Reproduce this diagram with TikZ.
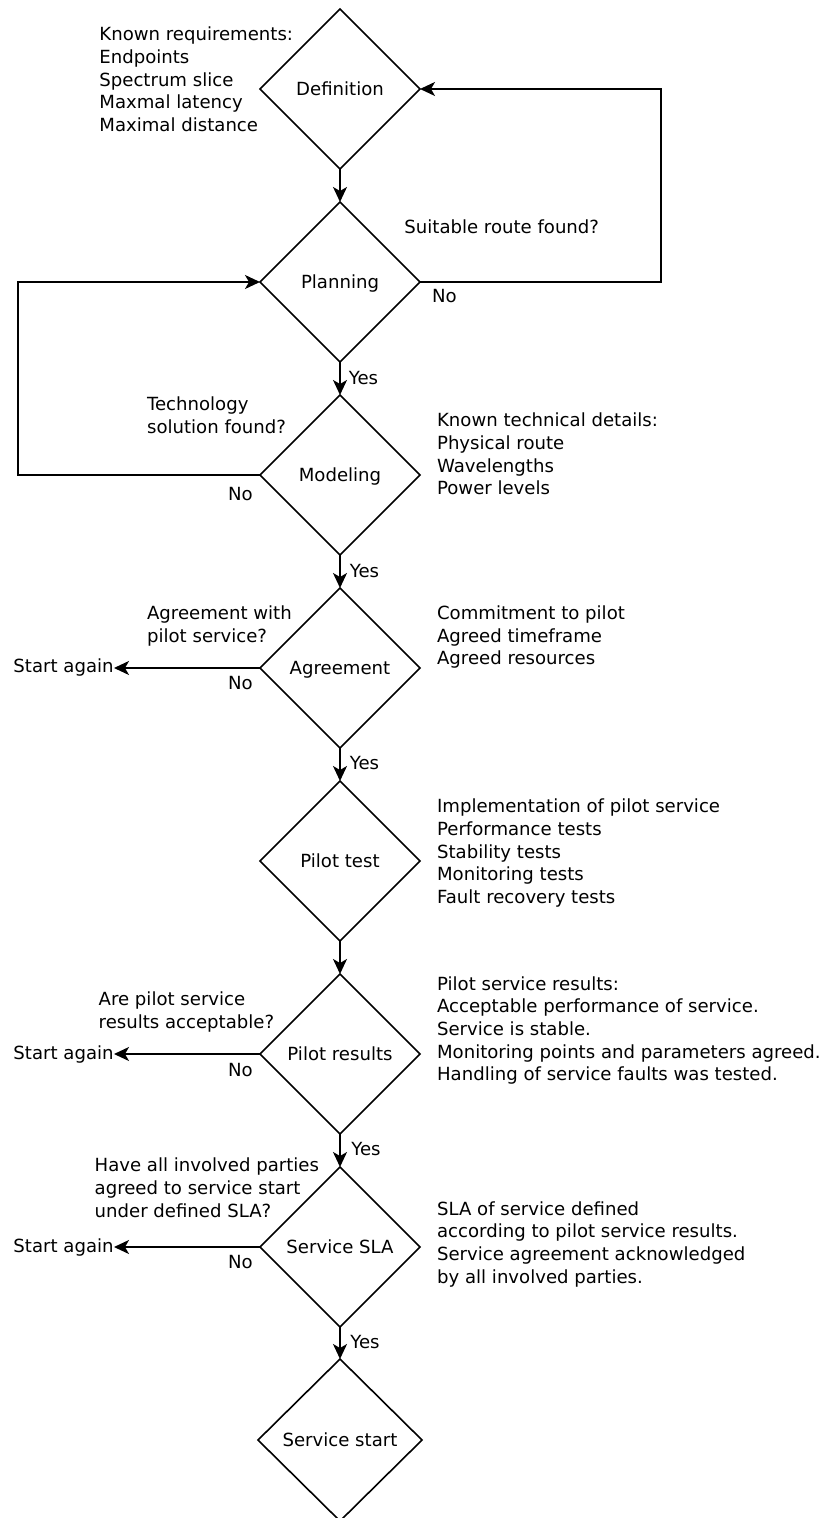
\documentclass[tikz,border=0pt]{standalone}
\usepackage{fontspec}
\setmainfont{DejaVu Sans}
\usetikzlibrary{shapes.geometric,arrows.meta}
\begin{document}
\begin{tikzpicture}[x=0.5pt,y=-0.5pt,
  every node/.style={font=\fontsize{9.05pt}{11.35pt}\selectfont},
  stage/.style={diamond,draw,line width=0.8pt,minimum width=80pt,minimum height=80pt,
    inner sep=0pt,outer sep=0pt,text height=6.5pt,text depth=0pt,aspect=1},
  % multi-line notes are placed by the baseline of their last line
  note/.style={align=left,inner sep=0pt,anchor=base west},
  tag/.style={inner sep=0pt,anchor=base west},
  flow/.style={line width=0.8pt,-{Stealth[length=7.5pt,width=7pt,inset=2pt]}}]
\useasboundingbox (0,0) rectangle (824,1518);

% process stages
\node[stage] (def)  at (340,89)   {Definition};
\node[stage] (plan) at (340,282)  {Planning};
\node[stage] (mod)  at (340,475)  {Modeling};
\node[stage] (agr)  at (340,668)  {Agreement};
\node[stage] (pil)  at (340,861)  {Pilot test};
\node[stage] (res)  at (340,1054) {Pilot results};
\node[stage] (sla)  at (340,1247) {Service SLA};
\node[stage,minimum width=82pt,minimum height=81pt] (go) at (340,1440) {Service start};

% main flow
\draw[flow] (def) -- (plan);
\draw[flow] (plan) -- (mod);
\draw[flow] (mod) -- (agr);
\draw[flow] (agr) -- (pil);
\draw[flow] (pil) -- (res);
\draw[flow] (res) -- (sla);
\draw[flow] (sla) -- (go);

% feedback loops
\coordinate (rloop) at (661,282);
\draw[flow] (plan.east) -- (rloop) |- (def.east);
\coordinate (lloop) at (18,475);
\draw[flow] (mod.west) -- (lloop) |- (plan.west);

% restart exits
\node[tag,anchor=base east] (sa1) at (114,672.7)  {Start again};
\node[tag,anchor=base east] (sa2) at (114,1059.3) {Start again};
\node[tag,anchor=base east] (sa3) at (114,1252.7) {Start again};
\draw[flow] (agr.west) -- (agr.west -| sa1.east);
\draw[flow] (res.west) -- (res.west -| sa2.east);
\draw[flow] (sla.west) -- (sla.west -| sa3.east);

% branch labels
\node[tag] (no1) at (431.7,302.7) {No};
\node[tag] (no2) at (227.7,500)   {No};
\node[tag] (no3) at (227.7,689)   {No};
\node[tag] (no4) at (227.7,1076)  {No};
\node[tag] (no5) at (227.7,1268.3){No};
\node[tag] (y1) at (348.5,385)    {Yes};
\node[tag] (y2) at (349.5,577.3)  {Yes};
\node[tag] (y3) at (349.5,769.3)  {Yes};
\node[tag] (y4) at (351,1155)     {Yes};
\node[tag] (y5) at (350,1348.3)   {Yes};

% questions
\node[tag] (q1) at (404,234) {Suitable route found?};
\node[note] (q2) at (146.7,433.3) {Technology\\solution found?};
\node[note] (q3) at (146.7,642.3) {Agreement with\\pilot service?};
\node[note] (q4) at (98.3,1028.3) {Are pilot service\\results acceptable?};
\node[note] (q5) at (94.3,1217.1) {Have all involved parties\\agreed to service start\\under defined SLA?};

% stage notes
\node[note] (n1) at (99,131.5) {Known requirements:\\Endpoints\\Spectrum slice\\Maxmal latency\\Maximal distance};
\node[note] (n2) at (436.7,494.8) {Known technical details:\\Physical route\\Wavelengths\\Power levels};
\node[note] (n3) at (436.7,664.7) {Commitment to pilot\\Agreed timeframe\\Agreed resources};
\node[note] (n4) at (436.7,903.5) {Implementation of pilot service\\Performance tests\\Stability tests\\Monitoring tests\\Fault recovery tests};
\node[note] (n5) at (436.7,1080.8) {Pilot service results:\\Acceptable performance of service.\\Service is stable.\\Monitoring points and parameters agreed.\\Handling of service faults was tested.};
\node[note] (n6) at (436.7,1283.1) {SLA of service defined\\according to pilot service results.\\Service agreement acknowledged\\by all involved parties.};
\end{tikzpicture}
\end{document}
